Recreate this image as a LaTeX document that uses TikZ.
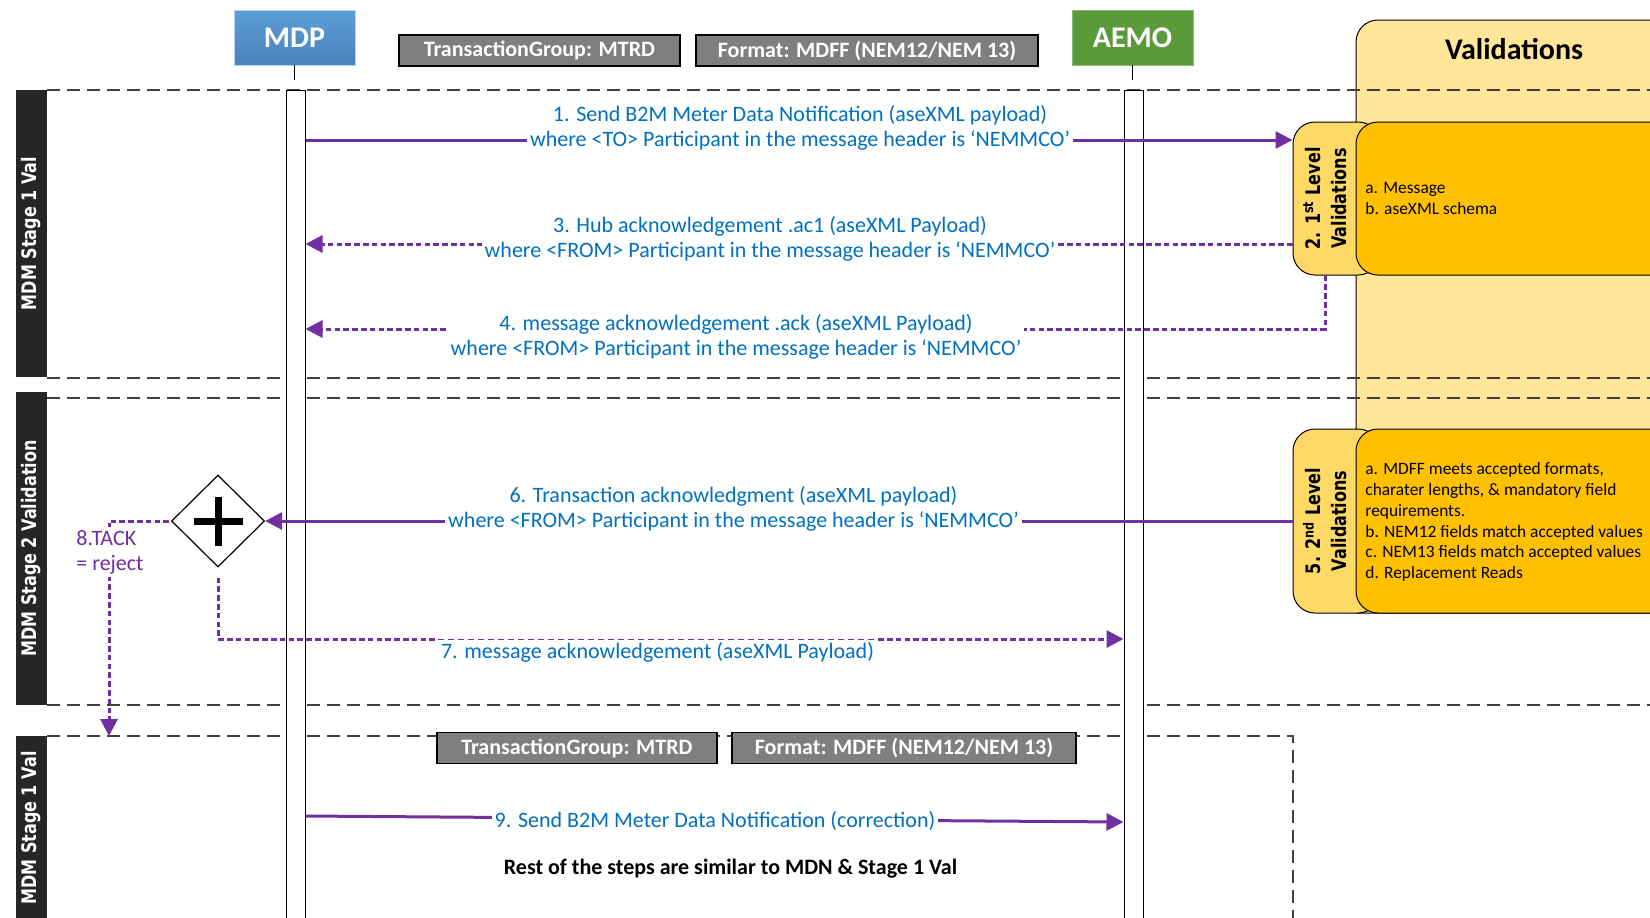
\documentclass[tikz,border=0pt]{standalone}
\usepackage{fontspec}
\setmainfont{Carlito}
\newfontfamily\vfont[FakeStretch=0.8]{DejaVu Sans}
\usetikzlibrary{arrows.meta,shapes.geometric}
\definecolor{msgblue}{HTML}{0070C0}
\definecolor{msgpurple}{HTML}{7030A0}
\definecolor{boxgray}{HTML}{7F7F7F}
\definecolor{bardark}{HTML}{262626}
\definecolor{valpale}{HTML}{FFE699}
\definecolor{valtab}{HTML}{FFD966}
\definecolor{valbody}{HTML}{FFC000}
\definecolor{mdptop}{HTML}{5D9DD8}
\definecolor{mdpbot}{HTML}{4A82BA}
\definecolor{aemogreen}{HTML}{5B9A3B}
\definecolor{sepgray}{HTML}{404040}

\begin{document}
\begin{tikzpicture}[x=0.5pt,y=-0.5pt,
  actor/.style={minimum width=60.5pt,minimum height=27.5pt,text=white,font=\fontsize{15}{18}\selectfont\bfseries},
  tag/.style={draw=black,line width=0.6pt,fill=boxgray,text=white,minimum height=15.5pt,inner sep=0pt,font=\fontsize{11}{13}\selectfont\bfseries},
  lifeline/.style={draw=black,line width=0.5pt,fill=white,minimum width=9.5pt,minimum height=420pt,inner sep=0pt},
  stagebar/.style={fill=bardark,text=white,rotate=90,minimum height=15.5pt,inner sep=0pt,font=\vfont\fontsize{10}{11}\selectfont\bfseries},
  sep/.style={draw=sepgray,line width=0.75pt,dash pattern=on 6.5pt off 3.5pt},
  msg/.style={fill=white,text=msgblue,align=center,inner sep=1.5pt,font=\fontsize{11}{12.5}\selectfont},
  sync/.style={draw=msgpurple,line width=1.5pt,-{Triangle[length=8.5pt,width=8.5pt]}},
  async/.style={sync,dash pattern=on 2.8pt off 1.6pt},
  tab/.style={draw=black,line width=0.5pt,fill=valtab,rounded corners=11pt,minimum width=43.5pt,inner sep=0pt},
  body/.style={draw=black,line width=0.5pt,fill=valbody,rounded corners=11pt,minimum width=172pt,inner sep=0pt},
  tabtext/.style={rotate=90,align=center,inner sep=0pt,font=\vfont\fontsize{10}{13}\selectfont\bfseries},
  rules/.style={align=left,anchor=west,inner sep=0pt,font=\fontsize{8.7}{10.4}\selectfont}]
  \useasboundingbox (0,0) rectangle (1650,917);

  \path[draw=black,line width=0.5pt,fill=valpale] (1356,613) [rounded corners=11pt] -- (1356,20) -- (1690,20) [sharp corners] -- (1690,613) -- cycle;
  \node[font=\fontsize{15}{18}\selectfont\bfseries] (valt) at (1514,49) {Validations};

  \foreach \y in {90,378,398,705}
    \draw[sep] (47,\y) -- (1650,\y);
  \draw[sep] (47,736) -| (1293,930);

  \node[stagebar,minimum width=143.5pt] (st1) at (31.5,233.5) {MDM Stage 1 Val};
  \node[stagebar,minimum width=156.5pt] (st2) at (31.5,548.5) {MDM Stage 2 Validation};
  \node[stagebar,minimum width=92pt] (st3) at (31.5,828) {MDM Stage 1 Val};

  \node[actor,top color=mdptop,bottom color=mdpbot,draw=mdptop!45!white] (mdp) at (294.5,37.5) {MDP};
  \node[actor,fill=aemogreen,draw=aemogreen!70!white] (aemo) at (1132.5,37.5) {AEMO};
  \node[tag,minimum width=140.5pt] (tg) at (539.5,50.5) {TransactionGroup: MTRD};
  \node[tag,minimum width=171pt] (fmt) at (867,50.5) {Format: MDFF (NEM12/NEM 13)};
  \node[tag,minimum width=140pt] (tg2) at (577,748) {TransactionGroup: MTRD};
  \node[tag,minimum width=172pt] (fmt2) at (904,748) {Format: MDFF (NEM12/NEM 13)};

  \node[lifeline] (mdpl) at (295.5,510) {};
  \node[lifeline] (aemol) at (1133.5,510) {};
  \draw[line width=0.75pt] (mdp.south) -- ++(0,15) (aemo.south) -- ++(0,15);

  \node[tab,minimum height=76.5pt] (lv1) at (1336.5,198.5) {};
  \node[body,minimum height=76.5pt] (lv1b) at (1528,198.5) {};
  \node[tabtext] (lv1t) at (1325,198.5) {2. 1\textsuperscript{st} Level\\Validations};
  \node[rules] (lv1r) at (1365,198.5) {a. Message\\b. aseXML schema};

  \node[tab,minimum height=92pt] (lv2) at (1336.5,521) {};
  \node[body,minimum height=92pt] (lv2b) at (1528,521) {};
  \node[tabtext] (lv2t) at (1325,521) {5. 2\textsuperscript{nd} Level\\Validations};
  \node[rules] (lv2r) at (1365,522) {a. MDFF meets accepted formats,\\charater lengths, \& mandatory field\\requirements.\\b. NEM12 fields match accepted values\\c. NEM13 fields match accepted values\\d. Replacement Reads};

  \node[diamond,draw,fill=white,line width=0.6pt,minimum width=46.5pt,minimum height=46pt,inner sep=0pt] (gw) at (218,521) {};
  \draw[line width=3.5pt] (gw.center) ++(-24.5,0) -- ++(49,0) (gw.center) ++(0,-24.5) -- ++(0,49);
  \coordinate (rej) at (109,736);

  \draw[sync] (mdpl.east |- 0,140) -- (lv1.west |- 0,140);
  \draw[async] (lv1.west |- 0,244) -- (mdpl.east |- 0,244);
  \draw[async] (lv1t |- lv1.south) |- (mdpl.east |- 0,329);
  \draw[sync] (lv2.west) -- (gw.east);
  \draw[async,shorten <=5pt] (gw.south) |- (aemol.west |- 0,639);
  \draw[async,shorten <=1pt] (gw.west) -| (rej);
  \draw[sync] (mdpl.east |- 0,816) -- (aemol.west |- 0,822);

  \node[msg] (m1) at (800,127.5) {1. Send B2M Meter Data Notification (aseXML payload)\\where <TO> Participant in the message header is ‘NEMMCO’};
  \node[msg] (m3) at (770,239) {3. Hub acknowledgement .ac1 (aseXML Payload)\\where <FROM> Participant in the message header is ‘NEMMCO’};
  \node[msg] (m4) at (736,336.5) {4. message acknowledgement .ack (aseXML Payload)\\where <FROM> Participant in the message header is ‘NEMMCO’};
  \node[msg] (m6) at (733.5,509) {6. Transaction acknowledgment (aseXML payload)\\where <FROM> Participant in the message header is ‘NEMMCO’};
  \node[msg,anchor=north,inner ysep=4pt] (m7) at (657.5,634) {7. message acknowledgement (aseXML Payload)};
  \draw[msgpurple,line width=0.4pt,densely dashed] ([yshift=-2.5pt]m7.north west) -- ([yshift=-2.5pt]m7.north east);
  \node[msg,text=msgpurple,align=left] (m8) at (110,552) {8.TACK\\= reject};
  \node[msg] (m9) at (715,821) {9. Send B2M Meter Data Notification (correction)};
  \node[font=\fontsize{11}{13}\selectfont\bfseries] (note) at (730.5,869) {Rest of the steps are similar to MDN \& Stage 1 Val};
\end{tikzpicture}
\end{document}
